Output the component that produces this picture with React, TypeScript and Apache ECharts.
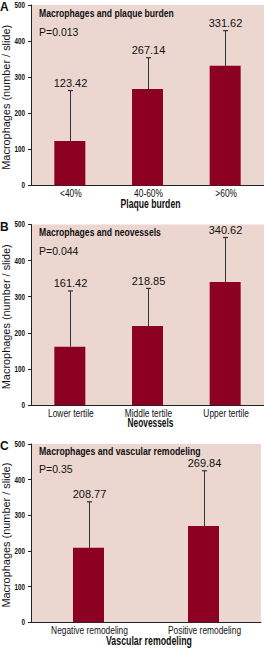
import React, { useEffect, useRef } from "react";
import * as echarts from "echarts";

const catsA = ["<40%", "40-60%", ">60%"];
const meansA = [123.42, 267.14, 331.62];
const upperA = [263, 354, 429];

const catsB = ["Lower tertile", "Middle tertile", "Upper tertile"];
const meansB = [161.42, 218.85, 340.62];
const upperB = [316, 323, 464];

const catsC = ["Negative remodeling", "Positive remodeling"];
const meansC = [208.77, 269.84];
const upperC = [338, 425];

const letters = ["A", "B", "C"];
const titles = [
  "Macrophages and plaque burden",
  "Macrophages and neovessels",
  "Macrophages and vascular remodeling",
];
const pValues = ["P=0.013", "P=0.044", "P=0.35"];
const xNames = ["Plaque burden", "Neovessels", "Vascular remodeling"];
const yName = "Macrophages (number / slide)";
const yTicks = [0, 100, 200, 300, 400, 500];

const FONT = "'Liberation Sans', Arial, sans-serif";
const PINK = "#ebd6d0";
const BAR = "#8c0022";
const INK = "#111111";

const layout = [
  { top: 5, height: 180.5, width: 233, titleW: 135, xNameW: 60 },
  { top: 224.5, height: 180.5, width: 233, titleW: 122, xNameW: 46 },
  { top: 444, height: 178.3, width: 230, titleW: 162, xNameW: 86 },
];
const titleY = [12.7, 231.7, 450.7];
const pY = [31.7, 250.7, 469.3];

export default function App() {
  const ref = useRef<HTMLDivElement>(null);
  useEffect(() => {
    document.body.style.margin = "0";
    const chart = echarts.init(ref.current!, undefined, { renderer: "svg" });
    const ctx = document.createElement("canvas").getContext("2d")!;
    const measure = (t: string, size: number, bold: boolean) => {
      ctx.font = `${bold ? "bold " : ""}${size}px "Liberation Sans", Arial, sans-serif`;
      return ctx.measureText(t).width || t.length * size * 0.55;
    };
    const panels = [
      { cats: catsA, means: meansA, upper: upperA },
      { cats: catsB, means: meansB, upper: upperB },
      { cats: catsC, means: meansC, upper: upperC },
    ];
    const grid = layout.map((g) => ({
      left: 31,
      width: g.width,
      top: g.top,
      height: g.height,
      show: true,
      backgroundColor: PINK,
      borderWidth: 0,
    }));
    const xAxis = panels.map((p, i) => ({
      type: "category",
      gridIndex: i,
      data: p.cats,
      axisLine: { show: true, lineStyle: { color: "#222", width: 1 } },
      axisTick: { show: false },
      axisLabel: { show: false },
    }));
    const yAxis = panels.map((p, i) => ({
      type: "value",
      gridIndex: i,
      min: 0,
      max: 500,
      interval: 100,
      axisLine: { show: true, lineStyle: { color: "#222", width: 1 } },
      axisTick: { show: true, inside: false, length: 3, lineStyle: { color: "#222" } },
      axisLabel: { show: false },
      splitLine: { show: false },
    }));
    const series: any[] = [];
    panels.forEach((p, i) => {
      series.push({
        type: "bar",
        xAxisIndex: i,
        yAxisIndex: i,
        data: p.means,
        barWidth: 31,
        itemStyle: { color: BAR },
      });
      series.push({
        type: "custom",
        xAxisIndex: i,
        yAxisIndex: i,
        z: 5,
        data: p.means.map((m, k) => [k, m, p.upper[k]]),
        renderItem: (params: any, api: any) => {
          const base = api.coord([api.value(0), api.value(1)]);
          const top = api.coord([api.value(0), api.value(2)]);
          const x = Math.round(base[0]) + 0.5;
          return {
            type: "group",
            children: [
              {
                type: "line",
                shape: { x1: x, y1: base[1], x2: x, y2: top[1] },
                style: { stroke: "#333", lineWidth: 1 },
              },
              {
                type: "line",
                shape: { x1: x - 2.5, y1: top[1], x2: x + 2.5, y2: top[1] },
                style: { stroke: "#333", lineWidth: 1.2 },
              },
              {
                type: "text",
                x: x,
                y: top[1] - 2,
                style: {
                  text: (api.value(1) as number).toFixed(2),
                  textAlign: "center",
                  textVerticalAlign: "bottom",
                  fontSize: 11,
                  fontFamily: FONT,
                  fill: INK,
                },
              },
            ],
          };
        },
      });
    });
    chart.setOption({
      animation: false,
      backgroundColor: "#ffffff",
      grid,
      xAxis,
      yAxis,
      series,
    } as any);

    const graphic: any[] = [];
    const catScale = 77 / measure("Negative remodeling", 11, false);
    const tickScale = 0.66;
    panels.forEach((p, i) => {
      const g = layout[i];
      const axisY = chart.convertToPixel({ yAxisIndex: i }, 0) as number;
      graphic.push({
        type: "text",
        x: 0,
        y: g.top + 2,
        style: { text: letters[i], fontSize: 12, fontWeight: "bold", fontFamily: FONT, fill: INK, textVerticalAlign: "middle" },
      });
      const tScale = g.titleW / measure(titles[i], 11.5, true);
      graphic.push({
        type: "text",
        x: 39,
        y: titleY[i],
        scaleX: tScale,
        style: { text: titles[i], fontSize: 11.5, fontWeight: "bold", fontFamily: FONT, fill: INK, textVerticalAlign: "middle" },
      });
      graphic.push({
        type: "text",
        x: 39,
        y: pY[i],
        style: { text: pValues[i], fontSize: 10.5, fontFamily: FONT, fill: INK, textVerticalAlign: "middle" },
      });
      yTicks.forEach((v) => {
        const py = chart.convertToPixel({ yAxisIndex: i }, v) as number;
        graphic.push({
          type: "text",
          x: 25,
          y: py,
          scaleX: tickScale,
          style: { text: String(v), fontSize: 9.5, fontWeight: "bold", fontFamily: FONT, fill: INK, textAlign: "right", textVerticalAlign: "middle" },
        });
      });
      p.cats.forEach((c, k) => {
        const px = chart.convertToPixel({ xAxisIndex: i }, k) as number;
        graphic.push({
          type: "text",
          x: px + 1,
          y: axisY + 8,
          scaleX: catScale,
          style: { text: c, fontSize: 11, fontFamily: FONT, fill: INK, textAlign: "center", textVerticalAlign: "middle" },
        });
      });
      const nScale = g.xNameW / measure(xNames[i], 12, true);
      graphic.push({
        type: "text",
        x: 31 + g.width / 2 + 3,
        y: axisY + 18,
        scaleX: nScale,
        style: { text: xNames[i], fontSize: 12, fontWeight: "bold", fontFamily: FONT, fill: INK, textAlign: "center", textVerticalAlign: "middle" },
      });
      const yScale = 145 / measure(yName, 10.5, false);
      graphic.push({
        type: "text",
        x: 6,
        y: g.top + g.height / 2 + 2,
        rotation: Math.PI / 2,
        scaleX: yScale,
        style: { text: yName, fontSize: 10.5, fontFamily: FONT, fill: INK, textAlign: "center", textVerticalAlign: "middle" },
      });
    });
    chart.setOption({ graphic } as any);
    return () => chart.dispose();
  }, []);
  return <div ref={ref} style={{ width: 264, height: 649 }} />;
}
